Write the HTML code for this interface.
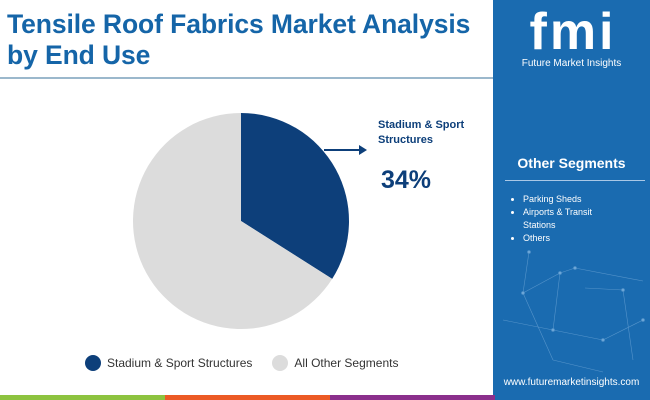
<!DOCTYPE html>
<html><head><meta charset="utf-8"><style>
body{margin:0;width:650px;height:400px;overflow:hidden;background:#fff;font-family:"Liberation Sans",sans-serif;position:relative}
.t{position:absolute;left:7px;top:9px;font-size:26.5px;font-weight:bold;color:#1565a8;line-height:31px;letter-spacing:-0.1px}
</style></head><body>
<div class="t">Tensile Roof Fabrics Market Analysis<br>by End Use</div>
<div style="position:absolute;left:0;top:77px;width:493px;height:2px;background:#9bb8cc"></div>
<div style="position:absolute;left:493px;top:0;width:157px;height:400px;background:#1a6bb0">
<svg width="157" height="400" style="position:absolute;left:0;top:0">
<g stroke="#6fa6d6" stroke-width="0.6" fill="#8fc0e8" opacity="0.7">
<line x1="36" y1="252" x2="30" y2="293"/><line x1="30" y1="293" x2="67" y2="273"/><line x1="67" y1="273" x2="82" y2="268"/><line x1="82" y1="268" x2="150" y2="281"/><line x1="30" y1="293" x2="60" y2="360"/><line x1="67" y1="273" x2="60" y2="330"/><line x1="60" y1="330" x2="110" y2="340"/><line x1="110" y1="340" x2="150" y2="320"/><line x1="92" y1="288" x2="130" y2="290"/><line x1="130" y1="290" x2="140" y2="360"/><line x1="10" y1="320" x2="60" y2="330"/><line x1="60" y1="360" x2="110" y2="372"/>
<circle cx="36" cy="252" r="1.5"/><circle cx="30" cy="293" r="1.5"/><circle cx="67" cy="273" r="1.5"/><circle cx="82" cy="268" r="1.5"/><circle cx="60" cy="330" r="1.5"/><circle cx="110" cy="340" r="1.5"/><circle cx="130" cy="290" r="1.5"/><circle cx="150" cy="320" r="1.5"/>
</g></svg>
<div style="position:absolute;left:20px;top:6px;width:120px;font-size:52px;font-weight:bold;color:#fff;line-height:52px;text-align:center;letter-spacing:3px">fmi</div>
<div style="position:absolute;left:0;top:58px;width:157px;text-align:center;color:#fff;font-size:10px">Future Market Insights</div>
<div style="position:absolute;left:0;top:155px;width:157px;text-align:center;color:#fff;font-size:14px;font-weight:bold">Other Segments</div>
<div style="position:absolute;left:12px;top:180px;width:140px;height:1px;background:#a9c8e6"></div>
<ul style="position:absolute;left:0;top:193px;margin:0;padding-left:30px;color:#fff;font-size:9px;line-height:13px;width:85px">
<li>Parking Sheds</li>
<li>Airports &amp; Transit Stations</li>
<li>Others</li></ul>
<div style="position:absolute;left:0;top:377px;width:157px;text-align:center;color:#fff;font-size:10px">www.futuremarketinsights.com</div>
</div>
<div style="position:absolute;left:0;top:395px;width:165px;height:5px;background:#8dc33f"></div>
<div style="position:absolute;left:165px;top:395px;width:165px;height:5px;background:#ec5a25"></div>
<div style="position:absolute;left:330px;top:395px;width:165px;height:5px;background:#8b2f8c"></div>
<svg id="pie" width="493" height="340" style="position:absolute;left:0;top:60px"></svg>
<div style="position:absolute;left:378px;top:118px;font-size:11px;font-weight:bold;color:#0d3f7a;line-height:15px">Stadium &amp; Sport<br>Structures</div>
<div style="position:absolute;left:381px;top:166px;font-size:25px;font-weight:bold;color:#0d3f7a">34%</div>
<div style="position:absolute;left:85px;top:355px;font-size:12px;color:#333;display:flex;align-items:center">
<span style="width:16px;height:16px;border-radius:50%;background:#0d3f7a;display:inline-block;margin-right:6px"></span><span>Stadium &amp; Sport Structures</span>
<span style="width:16px;height:16px;border-radius:50%;background:#dcdcdc;display:inline-block;margin:0 6px 0 20px"></span><span>All Other Segments</span></div>
<script>
const categories=["Stadium & Sport Structures","All Other Segments"];
const values=[34,66];
const colors=["#0d3f7a","#dcdcdc"];
const svg=document.getElementById('pie');const NS="http://www.w3.org/2000/svg";
const cx=241,cy=161,r=108;const tot=values.reduce((a,b)=>a+b,0);
let a0=0;
values.forEach((v,i)=>{const a1=a0+v/tot*2*Math.PI;
const x0=cx+r*Math.sin(a0),y0=cy-r*Math.cos(a0),x1=cx+r*Math.sin(a1),y1=cy-r*Math.cos(a1);
const p=document.createElementNS(NS,'path');
p.setAttribute('d',`M${cx},${cy}L${x0},${y0}A${r},${r} 0 ${a1-a0>Math.PI?1:0} 1 ${x1},${y1}Z`);
p.setAttribute('fill',colors[i]);


svg.appendChild(p);a0=a1;});
const ar=document.createElementNS(NS,'g');


ar.innerHTML='<line x1="324" y1="90" x2="362" y2="90" stroke="#0d3f7a" stroke-width="2"/><polygon points="359,85 367,90 359,95" fill="#0d3f7a"/>';
svg.appendChild(ar);
</script>
</body></html>
